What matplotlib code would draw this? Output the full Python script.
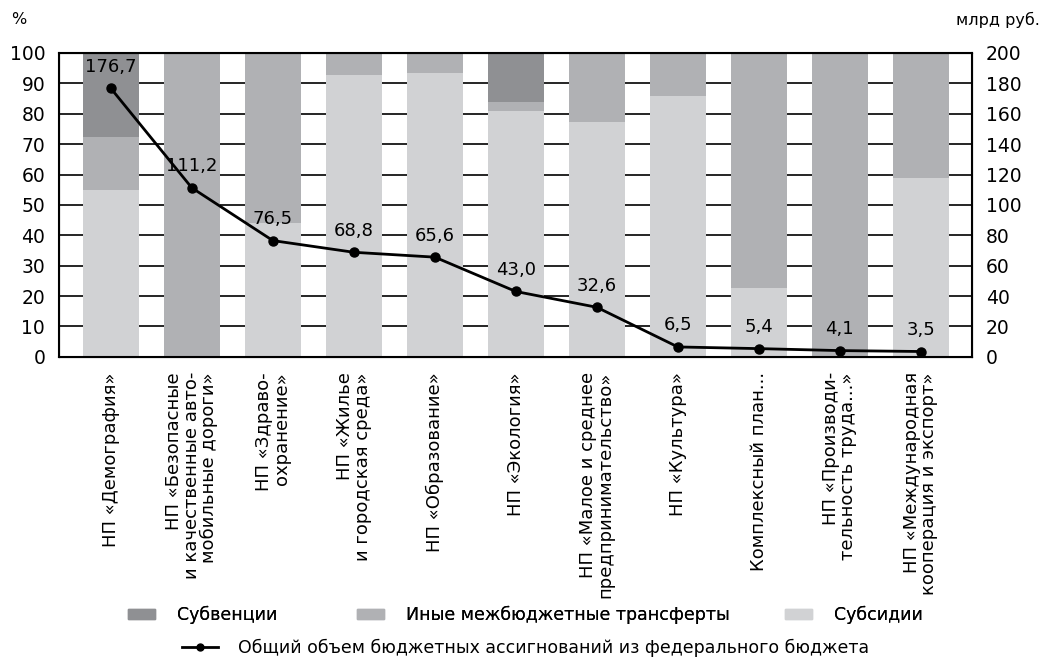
import matplotlib.pyplot as plt
from matplotlib.patches import Patch
from matplotlib.lines import Line2D

# categories and values
categories = [
    'НП «Демография»',
    'НП «Безопасные\nи качественные авто-\nмобильные дороги»',
    'НП «Здраво-\nохранение»',
    'НП «Жилье\nи городская среда»',
    'НП «Образование»',
    'НП «Экология»',
    'НП «Малое и среднее\nпредпринимательство»',
    'НП «Культура»',
    'Комплексный план...',
    'НП «Производи-\nтельность труда...»',
    'НП «Международная\nкооперация и экспорт»',
]
subsidies = [55.0, 0.0, 44.0, 92.8, 93.3, 81.0, 77.4, 86.0, 22.5, 0.0, 59.0]
other_transfers = [17.5, 100.0, 56.0, 7.2, 6.7, 3.0, 22.6, 14.0, 77.5, 100.0, 41.0]
subventions = [27.5, 0.0, 0.0, 0.0, 0.0, 16.0, 0.0, 0.0, 0.0, 0.0, 0.0]
total_bln = [176.7, 111.2, 76.5, 68.8, 65.6, 43.0, 32.6, 6.5, 5.4, 4.1, 3.5]
total_labels = ['176,7', '111,2', '76,5', '68,8', '65,6', '43,0', '32,6',
                '6,5', '5,4', '4,1', '3,5']
series_names = ['Субвенции', 'Иные межбюджетные трансферты', 'Субсидии']
line_name = 'Общий объем бюджетных ассигнований из федерального бюджета'

C_SUBV = '#8f9093'
C_OTHER = '#b0b1b4'
C_SUBS = '#d1d2d4'

plt.rcParams['font.family'] = ['DejaVu Sans']
plt.rcParams['font.size'] = 13


def start():
    fig = plt.figure(figsize=(10.45, 6.62), dpi=100)
    ax = fig.add_axes([0.0565, 0.461, 0.8735, 0.459])
    x = list(range(len(categories)))
    w = 0.69

    ax.bar(x, subsidies, w, color=C_SUBS, zorder=2)
    ax.bar(x, other_transfers, w, bottom=subsidies, color=C_OTHER, zorder=2)
    bottoms = [a + b for a, b in zip(subsidies, other_transfers)]
    ax.bar(x, subventions, w, bottom=bottoms, color=C_SUBV, zorder=2)

    ax.set_ylim(0, 100)
    ax.set_xlim(-0.64, len(categories) - 0.37)
    ax.set_yticks(range(0, 101, 10))
    ax.yaxis.grid(True, color='black', linewidth=1.2)
    ax.set_axisbelow(True)
    ax.tick_params(axis='y', length=0, pad=10, labelsize=13.5)
    ax.set_xticks(x)
    ax.set_xticklabels(categories, rotation=90, va='top', ha='center',
                       multialignment='right', linespacing=0.95)
    ax.tick_params(axis='x', length=0, pad=11)
    for s in ax.spines.values():
        s.set_linewidth(1.5)

    ax2 = ax.twinx()
    ax2.plot(x, total_bln, color='black', linewidth=2, marker='o',
             markersize=6.5, zorder=5)
    ax2.set_ylim(0, 200)
    ax2.set_yticks(range(0, 201, 20))
    ax2.tick_params(axis='y', length=0, pad=10, labelsize=13.5)
    for xi, v, lab in zip(x, total_bln, total_labels):
        ax2.annotate(lab, (xi, v), xytext=(0, 9), textcoords='offset points',
                     ha='center', va='bottom', fontsize=13)

    fig.text(0.011, 0.97, '%', fontsize=11.5, va='center')
    fig.text(0.995, 0.97, 'млрд руб.', fontsize=11.5, va='center', ha='right')

    # legend entries are spaced unevenly in the original, so one legend each
    leg_font = {'family': 'DejaVu Sans', 'size': 12.5}
    colors = [C_SUBV, C_OTHER, C_SUBS]
    xpos = [0.1225, 0.3416, 0.751]
    for c, name, xp in zip(colors, series_names, xpos):
        leg = fig.legend([Patch(color=c)], [name], loc='center left',
                         bbox_to_anchor=(xp, 0.071), frameon=False,
                         borderpad=0, borderaxespad=0,
                         handlelength=1.55, handleheight=0.57,
                         handletextpad=1.3, prop=leg_font)
        fig.add_artist(leg)
    line_h = Line2D([], [], color='black', linewidth=2, marker='o', markersize=5)
    fig.legend([line_h], [line_name], loc='center left',
               bbox_to_anchor=(0.174, 0.021), frameon=False,
               borderpad=0, borderaxespad=0,
               handlelength=2.07, handletextpad=1.15, prop=leg_font)

    fig.savefig('out.png', dpi=100)


if __name__ == '__main__':
    start()
